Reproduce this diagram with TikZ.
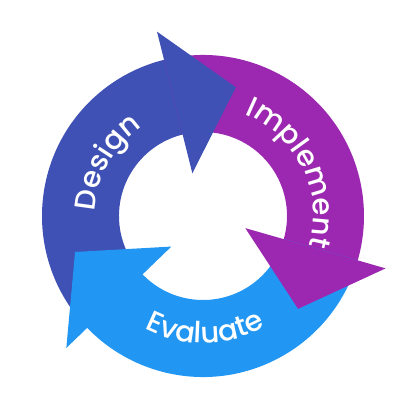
\documentclass[tikz,border=0pt]{standalone}
\usepackage{fontspec}
\usepackage{tikz}
\usetikzlibrary{calc,decorations.text}
\newfontfamily\cyclefont{Poppins}[UprightFont=* Medium,LetterSpace=3]
\definecolor{designblue}{HTML}{3F51B5}
\definecolor{implpurple}{HTML}{9C27B0}
\definecolor{evalblue}{HTML}{2196F3}

\begin{document}
\begin{tikzpicture}[scale=0.017573]
  \useasboundingbox (-203,-204) rectangle (207,216);
  % bands, 120 degrees each (a bit more, hidden under the head)
  \foreach \b/\c in {104/designblue,-16/implpurple,224/evalblue}{
    \fill[\c] ({\b+120}:161) arc[start angle=\b+120, end angle=\b-3, radius=161]
      -- ({\b-3}:84) arc[start angle=\b-3, end angle=\b+120, radius=84] -- cycle;
  }
  % heads on top
  \foreach \b/\c in {104/designblue,-16/implpurple,224/evalblue}{
    \fill[\c] (\b:44) -- (\b:190) -- ($(\b:117)+({\b-90}:63)$) -- cycle;
  }
  % labels
  \path[decorate,decoration={text along path,text align=center,
    text={|\cyclefont\fontsize{14.5}{14.5}\selectfont\color{white}|Design}}]
    (211:108) arc[start angle=211, end angle=91, radius=108];
  \path[decorate,decoration={text along path,text align=center,
    text={|\cyclefont\fontsize{14.5}{14.5}\selectfont\color{white}|Implement}}]
    (86:110) arc[start angle=86, end angle=-34, radius=110];
  \path[decorate,decoration={text along path,text align=center,
    text={|\cyclefont\fontsize{14.5}{14.5}\selectfont\color{white}|Evaluate}}]
    (211:127) arc[start angle=211, end angle=331, radius=127];
\end{tikzpicture}
\end{document}
